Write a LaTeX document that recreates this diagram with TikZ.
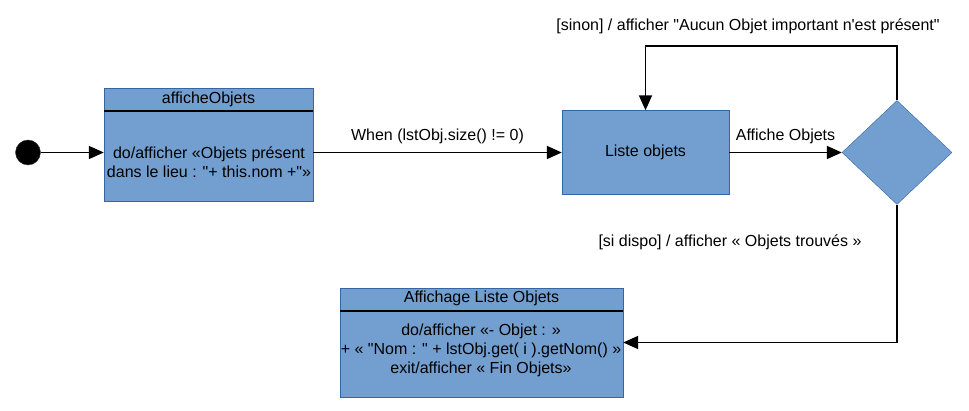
\documentclass[tikz,border=0pt]{standalone}
\usepackage{fontspec}
\setmainfont{Liberation Sans}[Ligatures=TeXOff]
\usetikzlibrary{shapes.geometric,arrows.meta}
\definecolor{etatfond}{HTML}{729FCF}
\definecolor{etatbord}{HTML}{3465A4}

\begin{document}
\begin{tikzpicture}[x=1pt,y=-1pt,
    every node/.style={font=\fontsize{16}{19}\selectfont},
    etat/.style={draw=etatbord,fill=etatfond,rectangle,inner sep=0pt},
    fleche/.style={line width=1.8pt,-{Triangle[length=15pt,width=13pt]}},
    titre/.style={line width=1.6pt}]
  \useasboundingbox (0,0) rectangle (969,411);

  % etats
  \node[circle,fill=black,draw=black!80,minimum size=25pt,inner sep=0pt] (init) at (28,152.5) {};
  \node[etat,minimum width=209pt,minimum height=113pt] (affO) at (208.5,144.5) {};
  \node (affOT) at (208.5,99.5) {afficheObjets};
  \node[align=center] (affOD) at (209,162) {do/afficher «Objets présent\\dans le lieu : "+ this.nom +"»};
  \draw[titre] ([yshift=-23pt]affO.north west) -- ([yshift=-23pt]affO.north east);

  \node[etat,minimum width=167pt,minimum height=84pt] (liste) at (645.5,152.5) {Liste objets};
  \node[etat,diamond,aspect=1.06,minimum width=110pt,minimum height=104pt] (choix) at (897,152.5) {};

  \node[etat,minimum width=283pt,minimum height=109pt] (affL) at (481.5,342.5) {};
  \node (affLT) at (481.5,298) {Affichage Liste Objets};
  \node[align=center] (affLD) at (481,350) {do/afficher «- Objet : »\\+ « "Nom : " + lstObj.get( i ).getNom() »\\exit/afficher « Fin Objets»};
  \draw[titre] ([yshift=-23pt]affL.north west) -- ([yshift=-23pt]affL.north east);

  % transitions
  \coordinate (haut) at (897,46);
  \draw[fleche] (init.east) -- (init.east -| affO.west);
  \draw[fleche] (init.east -| affO.east) -- (liste.west) node[midway,above=4pt] (quand) {When (lstObj.size() != 0)};
  \draw[fleche] (liste) -- (choix) node[midway,above=4pt] (affiche) {Affiche Objets};
  \draw[fleche] (choix.north) -- (haut) -| (liste.north);
  \draw[fleche] (choix.south) |- (affL.east);
  \node (sinon) at (748,26) {[sinon] / afficher "Aucun Objet important n'est présent"};
  \node (dispo) at (730,242) {[si dispo] / afficher « Objets trouvés »};
\end{tikzpicture}
\end{document}
